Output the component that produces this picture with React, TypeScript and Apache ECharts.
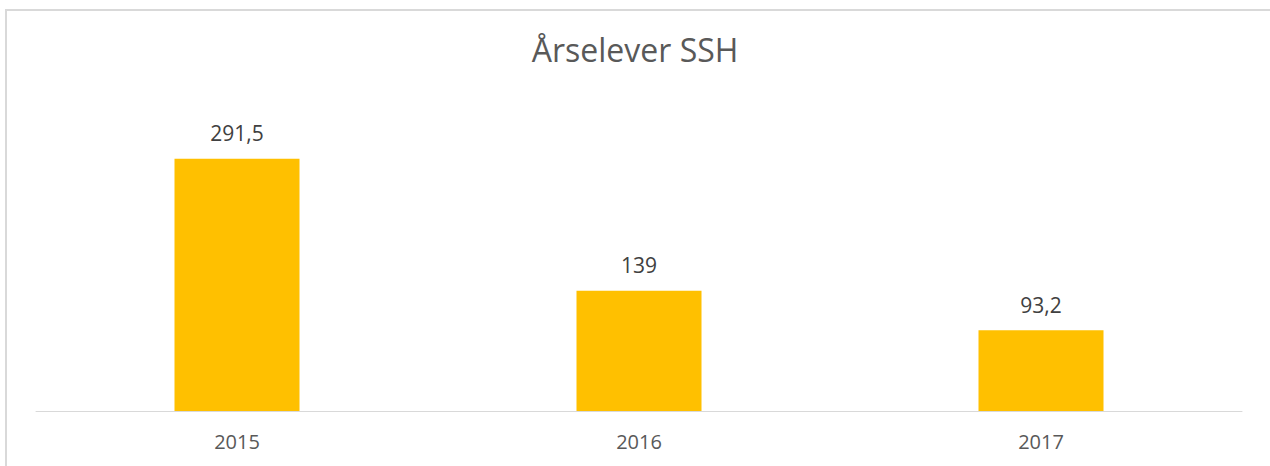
import React, { useEffect, useRef } from "react";
import * as echarts from "echarts";

const titleText = "Årselever SSH";
const categories = ["2015", "2016", "2017"];
const values = [291.5, 139, 93.2];
const valueLabels = ["291,5", "139", "93,2"];

export default function App() {
  const ref = useRef<HTMLDivElement>(null);
  useEffect(() => {
    if (!ref.current) return;
    const chart = echarts.init(ref.current, null, { renderer: "svg" });
    chart.setOption({
      animation: false,
      backgroundColor: "#ffffff",
      textStyle: { fontFamily: "Open Sans" },
      title: {
        text: titleText,
        left: "center",
        top: 28,
        textStyle: { fontFamily: "Open Sans", fontSize: 32, fontWeight: "normal", color: "#595959" },
      },
      graphic: [
        {
          type: "rect",
          shape: { x: 6, y: 10, width: 1400, height: 600 },
          style: { fill: "none", stroke: "#d9d9d9", lineWidth: 2 },
          silent: true,
        },
      ],
      grid: { left: 36, right: 28, top: 108, bottom: 55 },
      xAxis: {
        type: "category",
        data: categories,
        axisTick: { show: false },
        axisLine: { lineStyle: { color: "#d9d9d9", width: 1 } },
        axisLabel: { color: "#595959", fontSize: 20, margin: 20, fontFamily: "Open Sans" },
      },
      yAxis: {
        type: "value",
        min: 0,
        max: 350,
        show: false,
        splitLine: { show: false },
      },
      series: [
        {
          type: "bar",
          data: values,
          barWidth: 125,
          itemStyle: { color: "#FFC000" },
          label: {
            show: true,
            position: "top",
            distance: 15,
            color: "#404040",
            fontSize: 21,
            fontFamily: "Open Sans",
            formatter: (p: any) => valueLabels[p.dataIndex],
          },
        },
      ],
    });
    return () => chart.dispose();
  }, []);
  return (
    <div
      ref={ref}
      style={{ position: "fixed", left: 0, top: 0, width: 1270, height: 466 }}
    />
  );
}
